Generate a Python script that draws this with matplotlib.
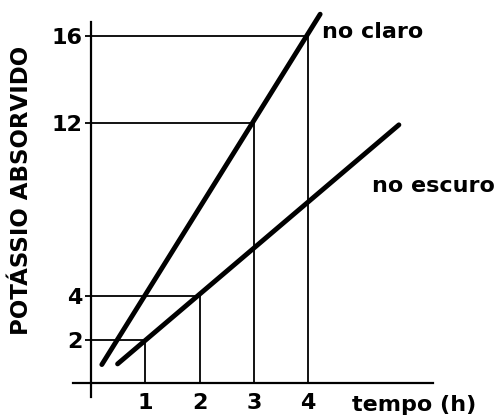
import matplotlib
matplotlib.use("Agg")
import matplotlib.pyplot as plt

# values
claro_x = [0.2, 4.22]
claro_y = [0.85, 17.0]
escuro_x = [0.49, 5.67]
escuro_y = [0.88, 11.9]

# guide lines: (tempo, potassio) points marked on the axes
ref_x = [1, 2, 3, 4]
ref_y = [2, 4, 12, 16]

xticks = [1, 2, 3, 4]
yticks = [2, 4, 12, 16]

fam = 'DejaVu Sans'

fig = plt.figure(figsize=(5.01, 4.16), dpi=100)
ax = fig.add_axes([73 / 501, 19 / 416, 360 / 501, 375 / 416])
ax.set_xlim(-0.331, 6.298)
ax.set_ylim(-0.645, 16.64)

for s in ['top', 'right']:
    ax.spines[s].set_visible(False)
ax.spines['left'].set_position(('data', 0))
ax.spines['bottom'].set_position(('data', 0))
for s in ['left', 'bottom']:
    ax.spines[s].set_linewidth(1.6)

# guide lines to the axes
for x, y in zip(ref_x, ref_y):
    ax.plot([0, x], [y, y], color='black', lw=1.3)
    ax.plot([x, x], [0, y], color='black', lw=1.3)

ax.plot(claro_x, claro_y, color='black', lw=3.5, solid_capstyle='round', clip_on=False)
ax.plot(escuro_x, escuro_y, color='black', lw=3.5, solid_capstyle='round')

ax.set_xticks(xticks)
ax.set_yticks(yticks)
ax.tick_params(axis='x', length=0, pad=7)
ax.tick_params(axis='y', length=4.3, width=1.3, pad=2)
for lab in ax.get_xticklabels() + ax.get_yticklabels():
    lab.set_fontfamily(fam)
    lab.set_fontsize(16)
    lab.set_fontweight('bold')

txt = dict(fontsize=16, fontweight='bold', family=fam, clip_on=False)
ax.text(4.25, 16.2, 'no claro', va='center', ha='left', **txt)
ax.text(5.17, 9.08, 'no escuro', va='center', ha='left', **txt)
ax.text(4.8, -1.0, 'tempo (h)', va='center', ha='left', **txt)

fig.text(22 / 501, 1 - 190 / 416, 'POTÁSSIO ABSORVIDO', rotation=90,
         ha='center', va='center', fontsize=16.5, fontweight='bold', family=fam)

fig.savefig('out.png', dpi=100)
